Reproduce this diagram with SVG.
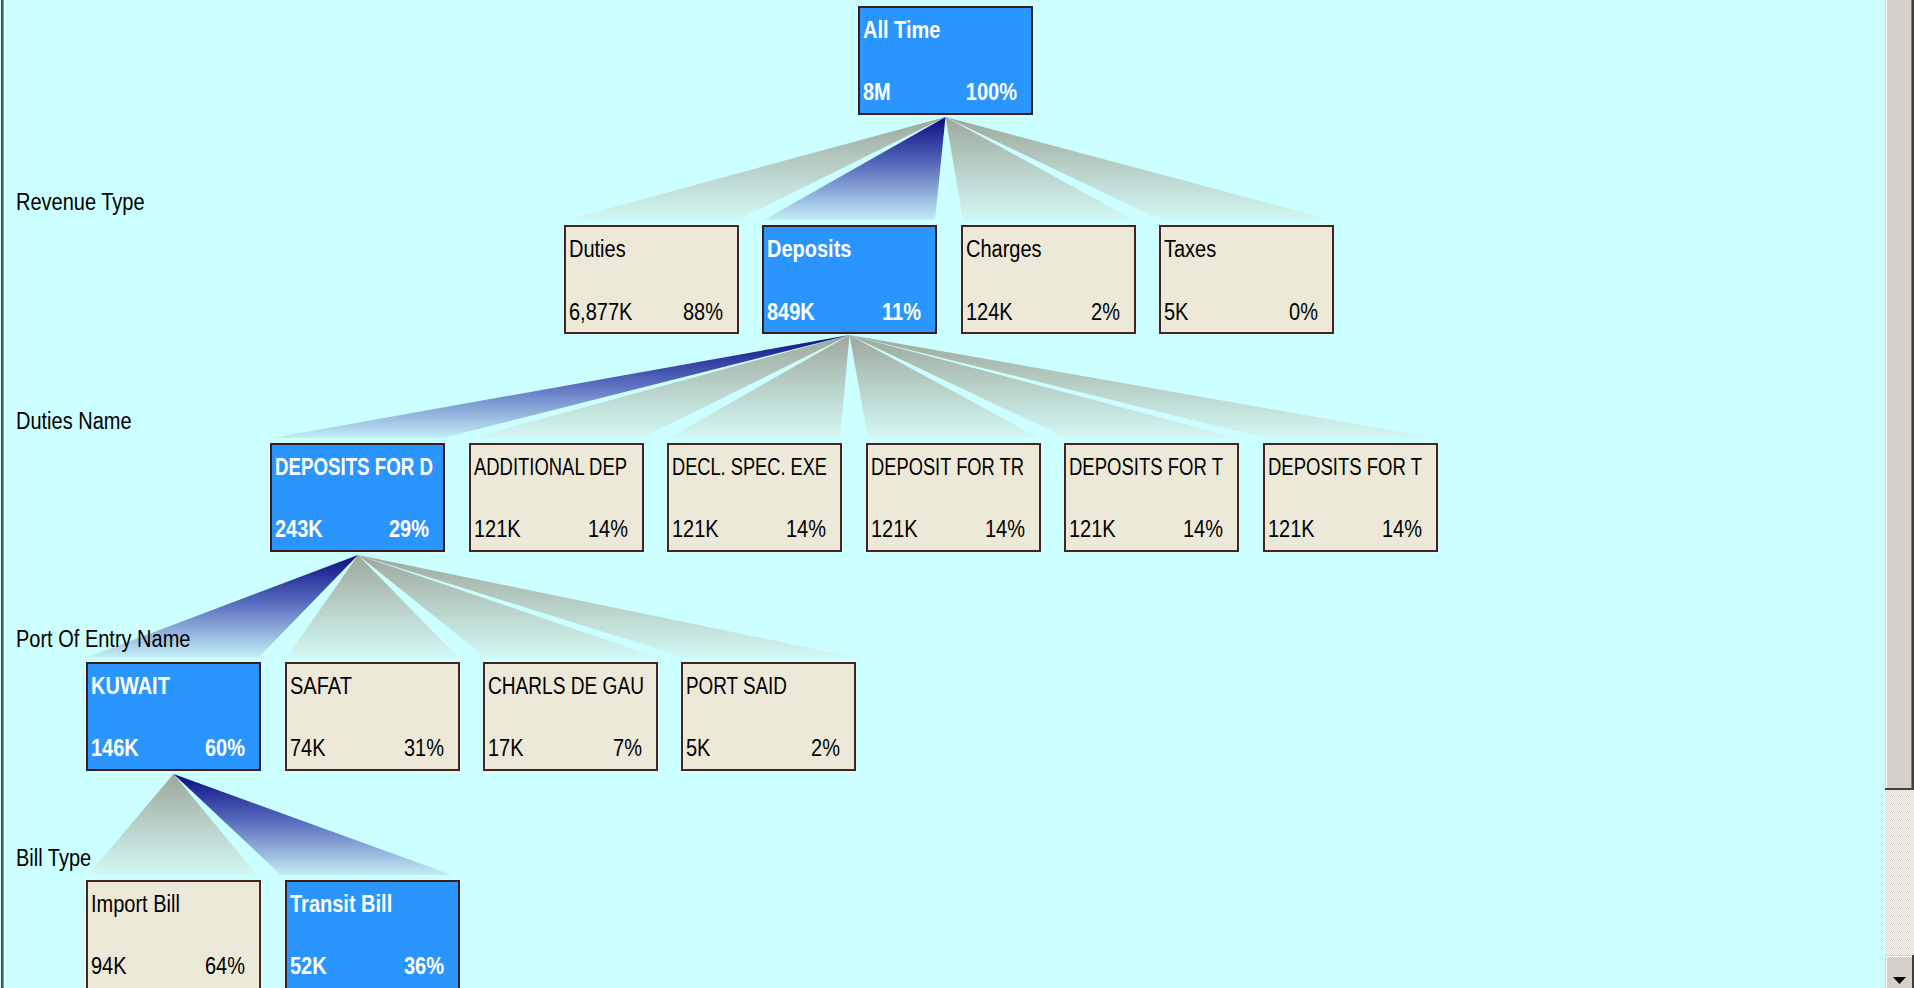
<svg xmlns="http://www.w3.org/2000/svg" width="1914" height="988" viewBox="0 0 1914 988">
<style>
.node rect{fill:#ECE9D8;stroke:#4A2222;stroke-width:2}
.sel rect{fill:#2B95FF;stroke:#3A1E1E;stroke-width:2}
text{font-family:"Liberation Sans",Arial,sans-serif;font-size:20px;transform-box:fill-box;transform-origin:0 81%;transform:scaleY(1.15)}
.node text{fill:#000}
.sel text{fill:#fff;font-weight:bold}
.pct{text-anchor:end}
.lbl{fill:#000;font-size:20px}
.wg{fill:url(#gGray)}
.wb{fill:url(#gBlue)}
</style>
<defs>
<linearGradient id="gGray" x1="0" y1="0" x2="0" y2="1">
<stop offset="0" stop-color="#9EA79B"/>
<stop offset="0.5" stop-color="#B8D0C8"/>
<stop offset="1" stop-color="#D2F8F4"/>
</linearGradient>
<linearGradient id="gBlue" x1="0" y1="0" x2="0" y2="1">
<stop offset="0" stop-color="#0C0C80"/>
<stop offset="0.45" stop-color="#5568BC"/>
<stop offset="1" stop-color="#C2EDF6"/>
</linearGradient>
<pattern id="checker" width="2" height="2" patternUnits="userSpaceOnUse">
<rect width="2" height="2" fill="#FFFFFF"/>
<rect width="1" height="1" fill="#D4D0C8"/>
<rect x="1" y="1" width="1" height="1" fill="#D4D0C8"/>
</pattern>
</defs>
<rect width="1914" height="988" fill="#CCFFFF"/>
<rect x="1" y="0" width="2" height="988" fill="#505050"/>
<rect x="3" y="0" width="1" height="988" fill="#9A9A9A"/>

<g id="connectors">
<polygon class="wg" points="945.5,117 566,220 738,220"/>
<polygon class="wg" points="945.5,117 963,220 1134,220"/>
<polygon class="wg" points="945.5,117 1161,220 1332,220"/>
<polygon class="wb" points="945.5,117 764,220 935,220"/>

<polygon class="wg" points="849.5,335 471,438 642,438"/>
<polygon class="wg" points="849.5,335 669,438 840,438"/>
<polygon class="wg" points="849.5,335 868,438 1039,438"/>
<polygon class="wg" points="849.5,335 1066,438 1237,438"/>
<polygon class="wg" points="849.5,335 1265,438 1436,438"/>
<polygon class="wb" points="849.5,335 272,438 443,438"/>

<polygon class="wg" points="358,555 287,657 458,657"/>
<polygon class="wg" points="358,555 485,657 656,657"/>
<polygon class="wg" points="358,555 683,657 854,657"/>
<polygon class="wb" points="358,555 88,657 259,657"/>

<polygon class="wg" points="173.5,774 88,875 257,875"/>
<polygon class="wb" points="173.5,774 281,875 452,875"/>
</g>

<g id="level-labels">
<text class="lbl" x="16" y="210">Revenue Type</text>
<text class="lbl" x="16" y="429">Duties Name</text>
<text class="lbl" x="16" y="647">Port Of Entry Name</text>
<text class="lbl" x="16" y="866">Bill Type</text>
</g>

<g id="n-alltime" class="sel"><rect x="859" y="7" width="173" height="107"/><text x="863" y="38">All Time</text><text x="863" y="100">8M</text><text class="pct" x="1017" y="100">100%</text></g>

<g id="n-duties" class="node"><rect x="565" y="226" width="173" height="107"/><text x="569" y="257">Duties</text><text x="569" y="320">6,877K</text><text class="pct" x="723" y="320">88%</text></g>
<g id="n-deposits" class="sel"><rect x="763" y="226" width="173" height="107"/><text x="767" y="257">Deposits</text><text x="767" y="320">849K</text><text class="pct" x="921" y="320">11%</text></g>
<g id="n-charges" class="node"><rect x="962" y="226" width="173" height="107"/><text x="966" y="257">Charges</text><text x="966" y="320">124K</text><text class="pct" x="1120" y="320">2%</text></g>
<g id="n-taxes" class="node"><rect x="1160" y="226" width="173" height="107"/><text x="1164" y="257">Taxes</text><text x="1164" y="320">5K</text><text class="pct" x="1318" y="320">0%</text></g>

<g id="n-depositsford" class="sel"><rect x="271" y="444" width="173" height="107"/><text x="275" y="475" textLength="158" lengthAdjust="spacingAndGlyphs">DEPOSITS FOR D</text><text x="275" y="537">243K</text><text class="pct" x="429" y="537">29%</text></g>
<g id="n-additionaldep" class="node"><rect x="470" y="444" width="173" height="107"/><text x="474" y="475" textLength="153" lengthAdjust="spacingAndGlyphs">ADDITIONAL DEP</text><text x="474" y="537">121K</text><text class="pct" x="628" y="537">14%</text></g>
<g id="n-declspec" class="node"><rect x="668" y="444" width="173" height="107"/><text x="672" y="475" textLength="155" lengthAdjust="spacingAndGlyphs">DECL. SPEC. EXE</text><text x="672" y="537">121K</text><text class="pct" x="826" y="537">14%</text></g>
<g id="n-depositfortr" class="node"><rect x="867" y="444" width="173" height="107"/><text x="871" y="475" textLength="153" lengthAdjust="spacingAndGlyphs">DEPOSIT FOR TR</text><text x="871" y="537">121K</text><text class="pct" x="1025" y="537">14%</text></g>
<g id="n-depositsfort1" class="node"><rect x="1065" y="444" width="173" height="107"/><text x="1069" y="475" textLength="154" lengthAdjust="spacingAndGlyphs">DEPOSITS FOR T</text><text x="1069" y="537">121K</text><text class="pct" x="1223" y="537">14%</text></g>
<g id="n-depositsfort2" class="node"><rect x="1264" y="444" width="173" height="107"/><text x="1268" y="475" textLength="154" lengthAdjust="spacingAndGlyphs">DEPOSITS FOR T</text><text x="1268" y="537">121K</text><text class="pct" x="1422" y="537">14%</text></g>

<g id="n-kuwait" class="sel"><rect x="87" y="663" width="173" height="107"/><text x="91" y="694">KUWAIT</text><text x="91" y="756">146K</text><text class="pct" x="245" y="756">60%</text></g>
<g id="n-safat" class="node"><rect x="286" y="663" width="173" height="107"/><text x="290" y="694">SAFAT</text><text x="290" y="756">74K</text><text class="pct" x="444" y="756">31%</text></g>
<g id="n-charlsdegau" class="node"><rect x="484" y="663" width="173" height="107"/><text x="488" y="694" textLength="156" lengthAdjust="spacingAndGlyphs">CHARLS DE GAU</text><text x="488" y="756">17K</text><text class="pct" x="642" y="756">7%</text></g>
<g id="n-portsaid" class="node"><rect x="682" y="663" width="173" height="107"/><text x="686" y="694" textLength="101" lengthAdjust="spacingAndGlyphs">PORT SAID</text><text x="686" y="756">5K</text><text class="pct" x="840" y="756">2%</text></g>

<g id="n-importbill" class="node"><rect x="87" y="881" width="173" height="108"/><text x="91" y="912">Import Bill</text><text x="91" y="974">94K</text><text class="pct" x="245" y="974">64%</text></g>
<g id="n-transitbill" class="sel"><rect x="286" y="881" width="173" height="108"/><text x="290" y="912">Transit Bill</text><text x="290" y="974">52K</text><text class="pct" x="444" y="974">36%</text></g>

<g id="scrollbar">
<rect x="1885" y="0" width="29" height="988" fill="url(#checker)"/>
<rect x="1885" y="0" width="28" height="790" fill="#D4D0C8"/>
<rect x="1886" y="0" width="1" height="789" fill="#FFFFFF"/>
<rect x="1911" y="0" width="1" height="789" fill="#808080"/>
<rect x="1912" y="0" width="2" height="790" fill="#404040"/>
<rect x="1885" y="788" width="29" height="2" fill="#404040"/>
<rect x="1885" y="955" width="29" height="33" fill="#D4D0C8"/>
<rect x="1886" y="956" width="1" height="32" fill="#FFFFFF"/>
<rect x="1886" y="956" width="26" height="1" fill="#FFFFFF"/>
<rect x="1912" y="955" width="2" height="33" fill="#404040"/>
<polygon points="1893,977 1906,977 1899.5,984" fill="#000"/>
</g>
</svg>
